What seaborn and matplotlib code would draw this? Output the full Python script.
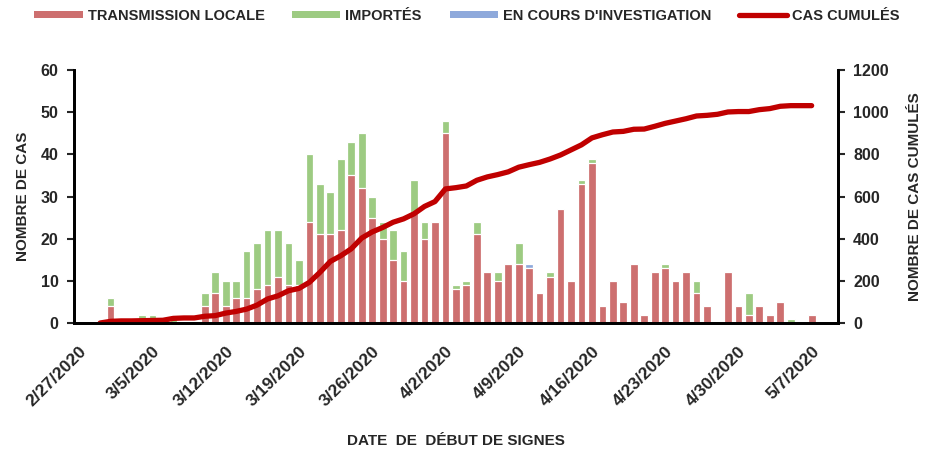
import numpy as np
import pandas as pd
import matplotlib
matplotlib.use("Agg")
import matplotlib.pyplot as plt
from matplotlib.patches import Patch
from matplotlib.lines import Line2D
import seaborn as sns

# jours du 27 fevrier au 9 mai 2020
dates = pd.date_range("2020-02-27", "2020-05-09")
date_labels = [f"{d.month}/{d.day}/{d.year}" for d in dates]

transmission_locale = [
    0, 0, 0, 4, 0, 0, 0, 0, 0, 0, 0, 0, 4, 7, 4, 6, 6, 8, 9, 11,
    9, 9, 24, 21, 21, 22, 35, 32, 25, 20, 15, 10, 26, 20, 24, 45, 8, 9, 21, 12,
    10, 14, 14, 13, 7, 11, 27, 10, 33, 38, 4, 10, 5, 14, 2, 12, 13, 10, 12, 7,
    4, 0, 12, 4, 2, 4, 2, 5, 0, 0, 2, 0, 0,
]
importes = [
    0, 0, 0, 2, 1, 0, 2, 2, 0, 2, 0, 0, 3, 5, 6, 4, 11, 11, 13, 11,
    10, 6, 16, 12, 10, 17, 8, 13, 5, 4, 7, 7, 8, 4, 0, 3, 1, 1, 3, 0,
    2, 0, 5, 0, 0, 1, 0, 0, 1, 1, 0, 0, 0, 0, 0, 0, 1, 0, 0, 3,
    0, 0, 0, 0, 5, 0, 0, 0, 1, 0, 0, 0, 0,
]
investigation = [0] * 43 + [1] + [0] * 29
cas_cumules = [
    np.nan, np.nan, 0, 8, 10, 10, 11, 12, 13, 22, 24, 24, 32, 35, 47, 55, 66, 85, 114, 129,
    153, 164, 193, 240, 292, 319, 352, 403, 432, 453, 478, 494, 518, 553, 576, 636, 642, 650, 677, 693,
    704, 717, 739, 751, 762, 778, 797, 821, 845, 878, 893, 906, 909, 919, 920, 933, 947, 958, 969, 982,
    985, 990, 1001, 1003, 1003, 1012, 1017, 1028, 1031, 1031, 1031, np.nan, np.nan,
]

df = pd.DataFrame({
    "date": date_labels,
    "local": transmission_locale,
    "importes": importes,
    "invest": investigation,
    "cumul": cas_cumules,
})
df["pos"] = np.arange(len(df))
df["local_imp"] = df["local"] + df["importes"]
df["total"] = df["local_imp"] + df["invest"]

c_local = "#CD6F6F"
c_imp = "#9DCB82"
c_inv = "#8EA9DB"
c_line = "#C00000"

sns.set_style("white")
plt.rcParams["font.family"] = ["Liberation Sans", "DejaVu Sans"]
plt.rcParams["font.weight"] = "bold"

fig = plt.figure(figsize=(9.34, 4.5), dpi=100)
ax = fig.add_axes([0.0792, 0.2822, 0.8178, 0.5622])

# barres empilees : on dessine le total puis on recouvre
bar_kw = dict(order=date_labels, width=0.74, edgecolor="white", linewidth=0.9, saturation=1, ax=ax)
sns.barplot(data=df, x="date", y="total", color=c_inv, **bar_kw)
sns.barplot(data=df, x="date", y="local_imp", color=c_imp, **bar_kw)
sns.barplot(data=df, x="date", y="local", color=c_local, **bar_kw)

ax.set_xlim(-0.5, len(df) - 0.5)
ax.set_ylim(0, 60)
ax.set_yticks(range(0, 61, 10))
ax.set_xticks(range(0, len(df), 7))
ax.set_xticklabels(date_labels[::7], rotation=45, ha="right", rotation_mode="anchor",
                   fontsize=12.5, fontweight="bold")
ax.tick_params(axis="x", length=0, pad=15)
ax.tick_params(axis="y", direction="out", length=5, width=1.5, labelsize=11.5, pad=6)
ax.set_xlabel("DATE  DE  DÉBUT DE SIGNES", fontsize=11, fontweight="bold", labelpad=18)
ax.set_ylabel("NOMBRE DE CAS", fontsize=11, fontweight="bold", labelpad=8)

ax2 = ax.twinx()
sns.lineplot(data=df.dropna(subset=["cumul"]), x="pos", y="cumul", color=c_line,
             linewidth=3.8, solid_capstyle="round", ax=ax2)
ax2.set_ylim(0, 1200)
ax2.set_yticks(range(0, 1201, 200))
ax2.tick_params(axis="y", direction="out", length=5, width=1.5, labelsize=11.5, pad=6)
ax2.set_ylabel("NOMBRE DE CAS CUMULÉS", fontsize=11, fontweight="bold", labelpad=14)
ax2.set_xlim(-0.5, len(df) - 0.5)

for a in (ax, ax2):
    a.spines["top"].set_visible(False)
    for s in ("left", "right", "bottom"):
        a.spines[s].set_linewidth(2)
        a.spines[s].set_color("black")
for lab in ax.get_yticklabels() + ax2.get_yticklabels():
    lab.set_fontweight("bold")

handles = [
    Patch(facecolor=c_local, edgecolor="none"),
    Patch(facecolor=c_imp, edgecolor="none"),
    Patch(facecolor=c_inv, edgecolor="none"),
    Line2D([0], [0], color=c_line, linewidth=3.8),
]
labels = ["TRANSMISSION LOCALE", "IMPORTÉS", "EN COURS D'INVESTIGATION", "CAS CUMULÉS"]
fig.legend(handles, labels, loc="upper center", bbox_to_anchor=(0.5, 1.01), ncol=4,
           frameon=False, handlelength=3.3, handleheight=0.45,
           columnspacing=1.9, handletextpad=0.35, prop={"weight": "bold", "size": 10.5})

fig.savefig("out.png", dpi=100)
